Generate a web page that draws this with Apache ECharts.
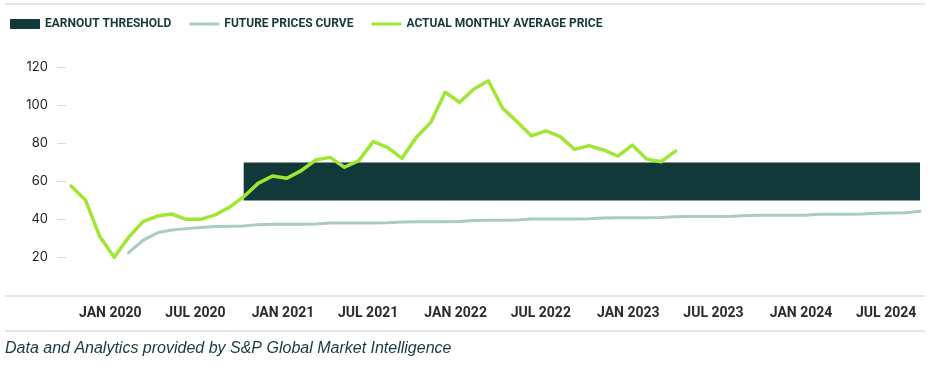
<!DOCTYPE html>
<html>
<head>
<meta charset="utf-8">
<script src="https://cdn.jsdelivr.net/npm/echarts@6/dist/echarts.min.js"></script>
<style>
html,body{margin:0;padding:0;background:#fff;}
#chart{width:945px;height:370px;}
</style>
</head>
<body>
<div id="chart"></div>
<script>
const months = [
  'Jan 2020','Feb 2020','Mar 2020','Apr 2020','May 2020','Jun 2020','Jul 2020','Aug 2020','Sep 2020','Oct 2020','Nov 2020','Dec 2020',
  'Jan 2021','Feb 2021','Mar 2021','Apr 2021','May 2021','Jun 2021','Jul 2021','Aug 2021','Sep 2021','Oct 2021','Nov 2021','Dec 2021',
  'Jan 2022','Feb 2022','Mar 2022','Apr 2022','May 2022','Jun 2022','Jul 2022','Aug 2022','Sep 2022','Oct 2022','Nov 2022','Dec 2022',
  'Jan 2023','Feb 2023','Mar 2023','Apr 2023','May 2023','Jun 2023','Jul 2023','Aug 2023','Sep 2023','Oct 2023','Nov 2023','Dec 2023',
  'Jan 2024','Feb 2024','Mar 2024','Apr 2024','May 2024','Jun 2024','Jul 2024','Aug 2024','Sep 2024','Oct 2024','Nov 2024','Dec 2024'
];
const actualPrice = [
  57.6, 50.3, 31, 20.1, 30.6, 38.9, 41.8, 42.9, 40.1, 40.1, 42.4, 46.4,
  52, 59, 62.9, 61.7, 65.7, 71.3, 72.7, 67.5, 71, 81, 78, 72.2,
  83.3, 91, 107, 101.7, 108.7, 113, 98.5, 91.5, 84, 86.6, 83.6, 76.9,
  78.9, 76.6, 73.4, 79.2, 71.8, 70.4, 76
];
const futureCurve = [
  null, null, null, null, 22.5, 29, 33, 34.5, 35.2, 35.8, 36.3, 36.5,
  36.6, 37.3, 37.5, 37.5, 37.5, 37.6, 38.1, 38.2, 38.2, 38.2, 38.3, 38.7,
  38.8, 38.8, 38.8, 39, 39.5, 39.6, 39.6, 39.7, 40.2, 40.3, 40.3, 40.3,
  40.4, 40.8, 40.9, 40.9, 40.9, 41, 41.5, 41.6, 41.6, 41.6, 41.7, 42.1,
  42.2, 42.2, 42.2, 42.3, 42.8, 42.8, 42.8, 42.9, 43.3, 43.4, 43.5, 44.3
];
const thresholdStart = 'Jan 2021';
const thresholdEnd = 'Dec 2024';
const thresholdLow = 50;
const thresholdHigh = 70;
const yTicks = [0, 20, 40, 60, 80, 100, 120];
const legendNames = ['EARNOUT THRESHOLD', 'FUTURE PRICES CURVE', 'ACTUAL MONTHLY AVERAGE PRICE'];
const footerText = 'Data and Analytics provided by S&P Global Market Intelligence';

const DARK = '#11393a';
const GREEN = '#a0e634';
const GRAY = '#aacbc4';
const RULE = '#e2ddd5';
const CONDENSED = "'Liberation Sans Narrow', 'Roboto', sans-serif";
const LINE_ICON = 'path://M0,0 L30,0 L30,3 L0,3 Z';

const chart = echarts.init(document.getElementById('chart'), null, {renderer: 'canvas'});
chart.setOption({
  animation: false,
  backgroundColor: '#ffffff',
  grid: {left: 71, right: 25, top: 67.5, bottom: 74.5, containLabel: false},
  legend: {
    left: 5, top: 13,
    itemWidth: 30, itemHeight: 10, itemGap: 18,
    symbolKeepAspect: true,
    textStyle: {fontFamily: CONDENSED, fontWeight: 'bold', fontSize: 12, color: '#15393b'},
    data: [
      {name: legendNames[0], icon: 'rect'},
      {name: legendNames[1], icon: LINE_ICON},
      {name: legendNames[2], icon: LINE_ICON}
    ]
  },
  xAxis: {
    type: 'category',
    data: months,
    boundaryGap: false,
    axisLine: {show: false},
    axisTick: {show: false},
    splitLine: {show: false},
    axisLabel: {
      interval: function (idx) { return idx % 6 === 0; },
      formatter: function (v) { return v.toUpperCase(); },
      align: 'left',
      padding: [0, 0, 0, 8],
      margin: 11,
      fontFamily: CONDENSED,
      fontWeight: 'bold',
      fontSize: 14,
      color: '#2b2b2b'
    }
  },
  yAxis: {
    type: 'value',
    min: yTicks[0],
    max: yTicks[yTicks.length - 1],
    interval: 20,
    offset: 5,
    axisLine: {show: false},
    axisTick: {show: true, length: 9, lineStyle: {color: '#dedbd5', width: 1}},
    splitLine: {show: false},
    axisLabel: {
      showMinLabel: false,
      margin: 18,
      fontFamily: 'Inter',
      fontSize: 13,
      color: '#222222'
    }
  },
  series: [
    {
      name: legendNames[0],
      type: 'line',
      data: [],
      symbol: 'none',
      itemStyle: {color: DARK},
      lineStyle: {color: DARK},
      z: 1,
      markArea: {
        silent: true,
        itemStyle: {color: DARK, opacity: 1},
        data: [[{xAxis: thresholdStart, yAxis: thresholdHigh}, {xAxis: thresholdEnd, yAxis: thresholdLow}]]
      }
    },
    {
      name: legendNames[1],
      type: 'line',
      data: futureCurve,
      symbol: 'none',
      connectNulls: false,
      itemStyle: {color: GRAY},
      lineStyle: {color: GRAY, width: 3, cap: 'round', join: 'round'},
      z: 2
    },
    {
      name: legendNames[2],
      type: 'line',
      data: actualPrice,
      symbol: 'none',
      itemStyle: {color: GREEN},
      lineStyle: {color: GREEN, width: 3.5, cap: 'round', join: 'round'},
      z: 3
    }
  ],
  graphic: [
    {type: 'line', shape: {x1: 5, y1: 4, x2: 925, y2: 4}, style: {stroke: RULE, lineWidth: 1.5}, silent: true},
    {type: 'line', shape: {x1: 5, y1: 296, x2: 925, y2: 296}, style: {stroke: RULE, lineWidth: 1.5}, silent: true},
    {type: 'line', shape: {x1: 5, y1: 331, x2: 925, y2: 331}, style: {stroke: RULE, lineWidth: 1.5}, silent: true},
    {type: 'text', left: 5, top: 341, style: {text: footerText, fontFamily: 'Liberation Sans', fontStyle: 'italic', fontSize: 16, fill: '#163a3c'}, silent: true}
  ]
});
</script>
</body>
</html>
